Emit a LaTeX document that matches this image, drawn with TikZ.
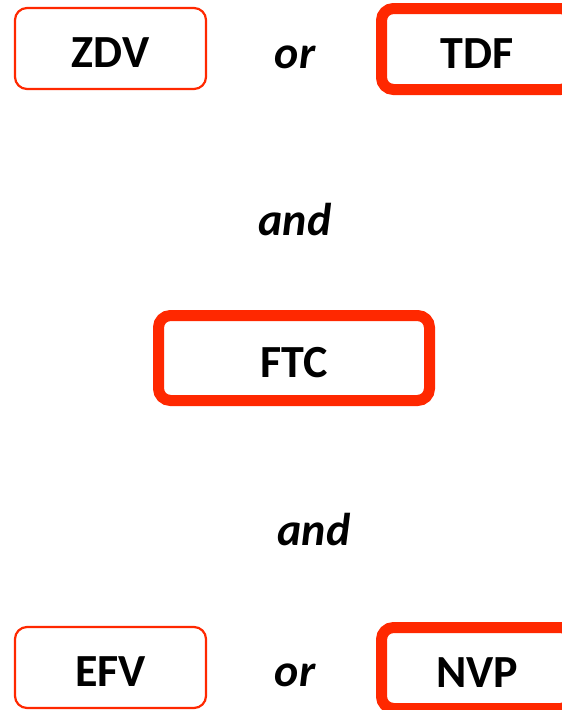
\documentclass[tikz,border=0pt]{standalone}
\usepackage{fontspec}
\setmainfont{Carlito}
\definecolor{boxred}{RGB}{255,40,0}
\tikzset{
  drugbox/.style={draw=boxred, rounded corners=12pt, minimum width=191pt,
    minimum height=81pt, inner sep=0pt, font=\bfseries\fontsize{46}{46}\selectfont,
    text height=38pt, text depth=0pt},
  thinbox/.style={drugbox, line width=2.2pt},
  thickbox/.style={drugbox, line width=11pt},
  joiner/.style={font=\bfseries\itshape\fontsize{46}{46}\selectfont, inner sep=0pt}
}
\begin{document}
\begin{tikzpicture}[x=1pt, y=-1pt]
  \useasboundingbox (0,0) rectangle (562,710);
  % first choice
  \node[thinbox] (zdv) at (110.5,48.5) {ZDV};
  \node[joiner] (or1) at (295,57) {or};
  \node[thickbox] (tdf) at (477,49) {TDF};
  % combined with
  \node[joiner] (and1) at (295,220) {and};
  \node[thickbox, minimum width=271pt, minimum height=85pt] (ftc) at (294,358) {FTC};
  \node[joiner] (and2) at (314,530) {and};
  % second choice
  \node[thinbox] (efv) at (110.5,667.5) {EFV};
  \node[joiner] (or2) at (295,675) {or};
  \node[thickbox] (nvp) at (477,668) {NVP};
\end{tikzpicture}
\end{document}
